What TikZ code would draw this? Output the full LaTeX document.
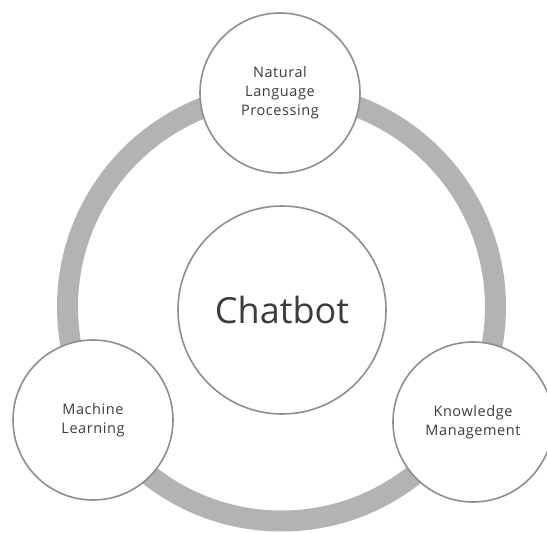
\documentclass[tikz,border=0pt]{standalone}
\usepackage{fontspec}
\setmainfont{Open Sans}
\newfontfamily\lblfont[LetterSpace=4]{Open Sans}
\definecolor{ringgray}{HTML}{B3B3B3}
\definecolor{edgegray}{HTML}{8E8E8E}
\definecolor{txtgray}{HTML}{3C3C3C}
\begin{document}
\begin{tikzpicture}[x=1pt,y=-1pt,
  bubble/.style={circle,draw=edgegray,line width=1.6pt,fill=white,minimum size=160pt,inner sep=0pt,
    text=txtgray,align=center,font=\lblfont\fontsize{14.5}{19}\selectfont},
  hub/.style={circle,draw=edgegray,line width=1.6pt,fill=white,minimum size=208pt,inner sep=0pt,
    text=txtgray,font=\fontsize{36}{40}\selectfont},
  ring/.style={draw=ringgray,line width=21pt}]
\useasboundingbox (0,0) rectangle (547,533);
\clip (0,0) rectangle (547,533);
\coordinate (rc) at (281.5,307);
\draw[ring] (rc) circle[radius=214];
\node[hub] (chat) at (282,310) {Chatbot};
\node[bubble] (nlp) at (280,93) {Natural\\Language\\Processing};
\node[bubble] (ml) at (93,420) {Machine\\Learning};
\node[bubble] (km) at (473,422) {Knowledge\\Management};
\end{tikzpicture}
\end{document}
